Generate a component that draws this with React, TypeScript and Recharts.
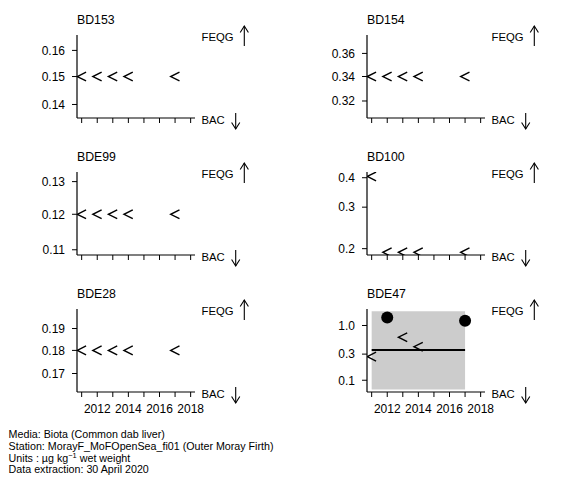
import React from 'react';
import { ComposedChart, XAxis, YAxis, Scatter, Line, Area } from 'recharts';

const FONT = '"Liberation Sans", Arial, Helvetica, sans-serif';

// ---- data ----
const yearTicks = [2011, 2012, 2013, 2014, 2015, 2016, 2017, 2018];
const yearLabels = [2012, 2014, 2016, 2018];
const lessYears = [2011, 2012, 2013, 2014, 2017];

const bd153Less = [0.15, 0.15, 0.15, 0.15, 0.15];
const bd154Less = [0.34, 0.34, 0.34, 0.34, 0.34];
const bde99Less = [0.12, 0.12, 0.12, 0.12, 0.12];
const bd100Less = [0.405, 0.193, 0.193, 0.193, 0.193];
const bde28Less = [0.18, 0.18, 0.18, 0.18, 0.18];

const bde47LessYears = [2011, 2013, 2014];
const bde47Less = [0.27, 0.61, 0.41];
const bde47DetYears = [2012, 2017];
const bde47Det = [1.4, 1.22];
const bde47FitYears = [2011, 2017];
const bde47Fit = [0.357, 0.357];
const bde47Band = [0.068, 1.81];

const bd153Ticks = [0.14, 0.15, 0.16];
const bd154Ticks = [0.32, 0.34, 0.36];
const bde99Ticks = [0.11, 0.12, 0.13];
const bd100Ticks = [0.2, 0.3, 0.4];
const bde28Ticks = [0.17, 0.18, 0.19];
const bde47Ticks = [0.1, 0.3, 1.0];

const footerLines = [
  'Media: Biota (Common dab liver)',
  'Station: MorayF_MoFOpenSea_fi01 (Outer Moray Firth)',
  'Data extraction: 30 April 2020',
];

// ---- layout ----
const CW = 290;
const CH = 150;
const PL = 77; // plot left within chart
const PR = 195; // plot right within chart
const PT = 35;
const PB = 118;

const LessShape = (props: any) => {
  const { cx, cy } = props;
  if (cx == null || cy == null) return null;
  return (
    <path
      d={`M${cx + 4.4},${cy - 4.4} L${cx - 4.4},${cy} L${cx + 4.4},${cy + 4.4}`}
      stroke="#000"
      strokeWidth={1.4}
      fill="none"
    />
  );
};

const DotShape = (props: any) => {
  const { cx, cy } = props;
  if (cx == null || cy == null) return null;
  return <circle cx={cx} cy={cy} r={6} fill="#000" />;
};

type PanelProps = {
  title: string;
  left: number;
  top: number;
  domain: [number, number];
  ticks: number[];
  decimals: number;
  lessX: number[];
  lessV: number[];
  detX?: number[];
  detV?: number[];
  fitX?: number[];
  fitV?: number[];
  band?: number[];
  showX: boolean;
};

const Panel = (p: PanelProps) => {
  const less = p.lessX.map((x, i) => ({ year: x, value: p.lessV[i] }));
  const det = p.detX ? p.detX.map((x, i) => ({ year: x, value: p.detV![i] })) : null;
  const fit = p.fitX ? p.fitX.map((x, i) => ({ year: x, fit: p.fitV![i] })) : null;
  const band = p.band && p.fitX ? p.fitX.map((x) => ({ year: x, band: [p.band![0], p.band![1]] })) : null;
  return (
    <div style={{ position: 'absolute', left: p.left, top: p.top, width: CW, height: CH }}>
      <ComposedChart
        width={CW}
        height={CH}
        margin={{ top: PT, right: CW - PR, bottom: 2, left: 0 }}
        style={{ fontFamily: FONT }}
      >
        <XAxis
          type="number"
          dataKey="year"
          domain={[2010.7, 2018.28]}
          ticks={yearTicks}
          interval={0}
          allowDataOverflow
          height={30}
          tickSize={5}
          tickMargin={7}
          axisLine={{ stroke: '#000', strokeWidth: 1.2 }}
          tickLine={{ stroke: '#000', strokeWidth: 1 }}
          tick={{ fill: '#000', fontSize: 12, fontFamily: FONT }}
          tickFormatter={(v: number) => (p.showX && yearLabels.includes(v) ? String(v) : '')}
        />
        <YAxis
          type="number"
          scale="log"
          domain={p.domain}
          ticks={p.ticks}
          interval={0}
          allowDataOverflow
          width={PL}
          tickSize={5}
          tickMargin={7}
          axisLine={{ stroke: '#000', strokeWidth: 1.2 }}
          tickLine={{ stroke: '#000', strokeWidth: 1 }}
          tick={{ fill: '#000', fontSize: 12, fontFamily: FONT }}
          tickFormatter={(v: number) => v.toFixed(p.decimals)}
        />
        {band && (
          <Area
            data={band}
            dataKey="band"
            type="linear"
            stroke="none"
            fill="#cccccc"
            fillOpacity={1}
            isAnimationActive={false}
            activeDot={false}
          />
        )}
        {fit && (
          <Line
            data={fit}
            dataKey="fit"
            type="linear"
            stroke="#000"
            strokeWidth={2}
            dot={false}
            activeDot={false}
            isAnimationActive={false}
          />
        )}
        <Scatter data={less} dataKey="value" shape={LessShape} isAnimationActive={false} />
        {det && <Scatter data={det} dataKey="value" shape={DotShape} isAnimationActive={false} />}
        <text x={PL} y={24.3} fontSize={12.3} fontFamily={FONT} fill="#000">
          {p.title}
        </text>
        <text x={PR + 6.5} y={PT + 6} fontSize={11.3} fontFamily={FONT} fill="#000">
          FEQG
        </text>
        <g stroke="#000" strokeWidth={1.1} fill="none">
          <line x1={PR + 49.3} y1={PT - 9} x2={PR + 49.3} y2={PT + 11} />
          <polyline points={`${PR + 45.2},${PT - 2.5} ${PR + 49.3},${PT - 9} ${PR + 53.4},${PT - 2.5}`} />
        </g>
        <text x={PR + 6.5} y={PB + 6} fontSize={11.3} fontFamily={FONT} fill="#000">
          BAC
        </text>
        <g stroke="#000" strokeWidth={1.1} fill="none">
          <line x1={PR + 40.7} y1={PB - 5} x2={PR + 40.7} y2={PB + 11} />
          <polyline points={`${PR + 36.6},${PB + 4.5} ${PR + 40.7},${PB + 11} ${PR + 44.8},${PB + 4.5}`} />
        </g>
      </ComposedChart>
    </div>
  );
};

const App = () => {
  return (
    <div style={{ position: 'absolute', left: 0, top: 0, width: 580, height: 480, background: '#fff' }}>
      <Panel title="BD153" left={0} top={0} domain={[0.1354, 0.1662]} ticks={bd153Ticks} decimals={2} lessX={lessYears} lessV={bd153Less} showX={false} />
      <Panel title="BD154" left={290} top={0} domain={[0.3068, 0.3768]} ticks={bd154Ticks} decimals={2} lessX={lessYears} lessV={bd154Less} showX={false} />
      <Panel title="BDE99" left={0} top={137} domain={[0.1086, 0.1331]} ticks={bde99Ticks} decimals={2} lessX={lessYears} lessV={bde99Less} showX={false} />
      <Panel title="BD100" left={290} top={137} domain={[0.188, 0.423]} ticks={bd100Ticks} decimals={1} lessX={lessYears} lessV={bd100Less} showX={false} />
      <Panel title="BDE28" left={0} top={274} domain={[0.1624, 0.1994]} ticks={bde28Ticks} decimals={2} lessX={lessYears} lessV={bde28Less} showX={true} />
      <Panel
        title="BDE47"
        left={290}
        top={274}
        domain={[0.061, 2.0]}
        ticks={bde47Ticks}
        decimals={1}
        lessX={bde47LessYears}
        lessV={bde47Less}
        detX={bde47DetYears}
        detV={bde47Det}
        fitX={bde47FitYears}
        fitV={bde47Fit}
        band={bde47Band}
        showX={true}
      />
      <svg style={{ position: 'absolute', left: 0, top: 420 }} width={580} height={60}>
        <g fontFamily={FONT} fontSize={10.7} fill="#000">
          <text x={8.6} y={18}>{footerLines[0]}</text>
          <text x={8.6} y={29.8}>{footerLines[1]}</text>
          <text x={8.6} y={41.6}>
            {'Units : '}
            <tspan>{'\u00b5g kg'}</tspan>
            <tspan dy={-3.6} fontSize={7.5}>{'\u22121'}</tspan>
            <tspan dy={3.6}>{' wet weight'}</tspan>
          </text>
          <text x={8.6} y={53.4}>{footerLines[2]}</text>
        </g>
      </svg>
    </div>
  );
};

export default App;
